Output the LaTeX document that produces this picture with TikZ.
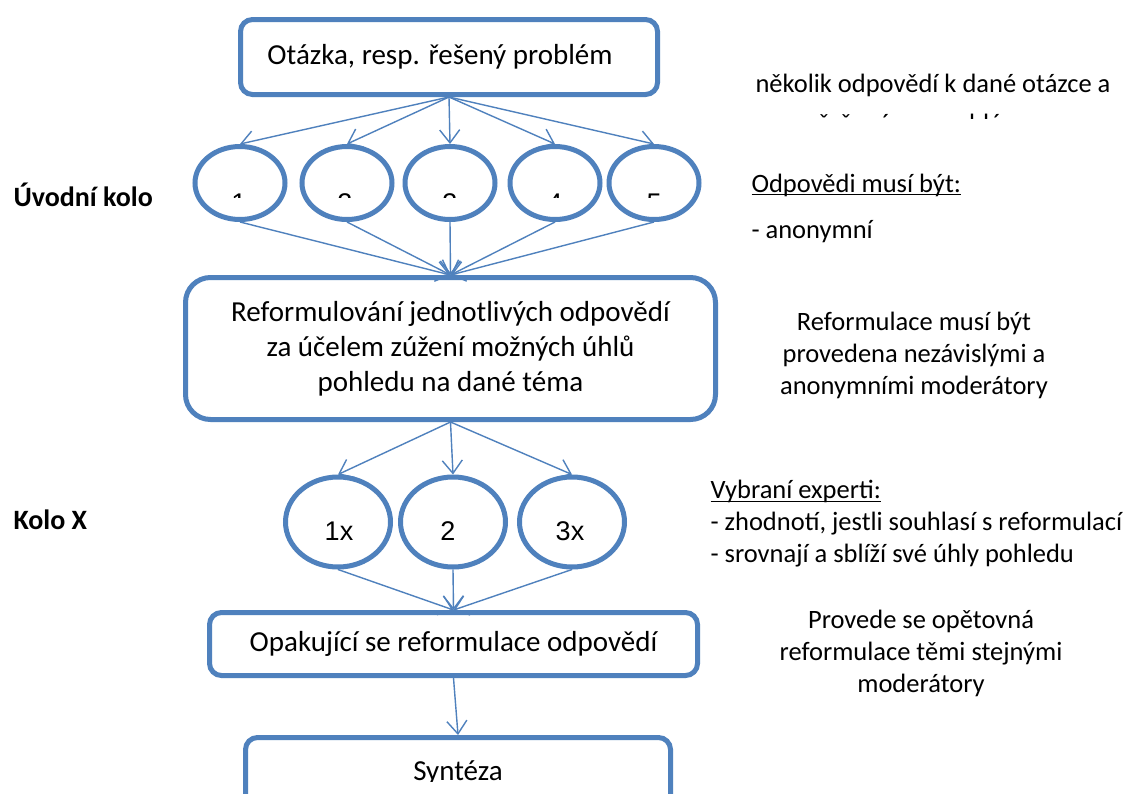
\documentclass[tikz,border=0pt]{standalone}
\usepackage{fontspec}
\setmainfont{Carlito}
\newfontfamily\numfont{Liberation Sans}
\usetikzlibrary{shapes.geometric,arrows.meta}
\definecolor{delphiblue}{HTML}{4F81BD}
\newcommand{\lowline}[1]{\setbox0\hbox{#1}\rlap{\rule[-3pt]{\wd0}{1.3pt}}\box0}

\begin{document}
\begin{tikzpicture}[x=1pt,y=-1pt,
    box/.style={draw=delphiblue,line width=5pt,rounded corners=12pt,inner sep=0pt},
    bubble/.style={draw=delphiblue,line width=5pt,ellipse,inner sep=0pt},
    link/.style={draw=delphiblue,line width=1.4pt,-{Straight Barb[length=13pt,width=20pt]}},
    boxtext/.style={font=\fontsize{29}{35}\selectfont},
    note/.style={font=\fontsize{26.5}{32}\selectfont},
    numtext/.style={font=\numfont\fontsize{27}{27}\selectfont},
    kolo/.style={font=\bfseries\fontsize{28}{28}\selectfont}]
    \clip (0,0) rectangle (1124,793);
    \fill[white] (0,0) rectangle (1124,793);

    \node[box,boxtext,minimum width=417pt,minimum height=75pt] (q) at (449,57) {Otázka, resp. řešený problém\kern18pt};

    \foreach \n/\x in {1/240,2/347,3/450,4/555,5/654}
        \node[bubble,minimum width=90pt,minimum height=73pt] (e\n) at (\x,183) {};
    \begin{scope}
        \clip (180,140) rectangle (710,197);
        \foreach \n/\x in {1/239,2/345,3/450,4/555,5/654}
            \node[numtext] (d\n) at (\x,203) {\n};
    \end{scope}

    \node[box,boxtext,rounded corners=25pt,minimum width=530pt,minimum height=142pt,align=center] (rf) at (450.5,348.5)
        {Reformulování jednotlivých odpovědí\\za účelem zúžení možných úhlů\\pohledu na dané téma};

    \foreach \n/\x in {1/338,2/453,3/572}
        \node[bubble,minimum width=105pt,minimum height=90pt] (k\n) at (\x,522) {};
    \node[numtext] (t1) at (339,531) {1x};
    \node[numtext] (t2) at (448,531) {2};
    \node[numtext] (t3) at (570,531) {3x};

    \node[box,boxtext,minimum width=488pt,minimum height=63pt] (op) at (453.5,644) {Opakující se reformulace odpovědí};
    \node[box,minimum width=425pt,minimum height=80pt] (syn) at (458,777.5) {};
    \begin{scope}
        \clip (250,740) rectangle (670,781);
        \node[boxtext,anchor=base] (st) at (458,780) {Syntéza};
    \end{scope}

    \foreach \n in {1,...,5} {
        \draw[link] (q.south) -- (e\n.north);
        \draw[link] (e\n.south) -- (rf.north);
    }
    \foreach \n in {1,2,3} {
        \draw[link] (rf.south) -- (k\n.north);
        \draw[link] (k\n.south) -- (op.north);
    }
    \draw[link] (op.south) -- (syn.north);

    \node[kolo,anchor=west] (uk) at (10,195) {Úvodní kolo};
    \node[kolo,anchor=west] (kx) at (10,520) {Kolo X};

    \node[note,anchor=base] (nk) at (933,92) {několik odpovědí k dané otázce a};
    \begin{scope}
        \clip (740,100) rectangle (1124,118);
        \node[note,anchor=base] (nk2) at (928,132) {řešenému problému};
    \end{scope}
    \node[note,anchor=west] (om) at (748,185) {\lowline{Odpovědi musí být:}};
    \node[note,anchor=west] (an) at (748,232) {- anonymní};
    \node[note,align=center] (rm) at (914,355) {Reformulace musí být\\provedena nezávislými a\\anonymními moderátory};
    \node[note,align=left,anchor=west] (ve) at (707,524) {\lowline{Vybraní experti:}\\- zhodnotí, jestli souhlasí s reformulací\\- srovnají a sblíží své úhly pohledu};
    \node[note,align=center] (po) at (921,653) {Provede se opětovná\\reformulace těmi stejnými\\moderátory};
\end{tikzpicture}
\end{document}
